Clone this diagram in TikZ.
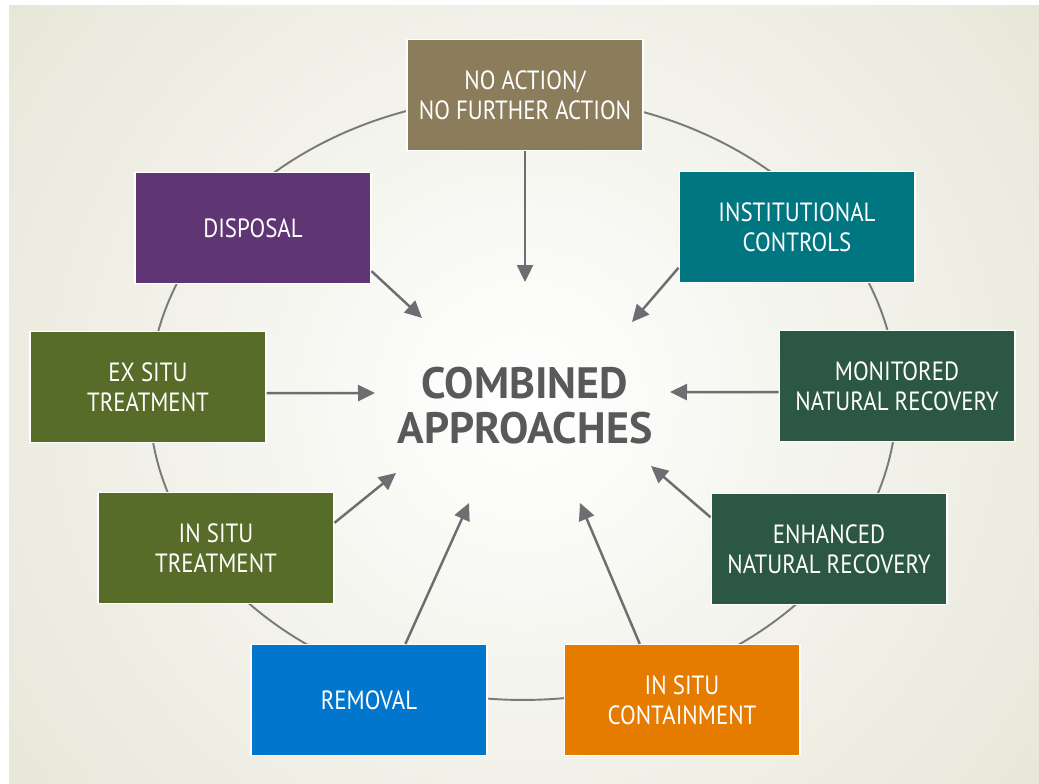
\documentclass[tikz,border=0pt]{standalone}
\usepackage{fontspec}
\setmainfont{PT Sans}
\newfontfamily\boxfont[FakeStretch=0.87]{PT Sans}
\usetikzlibrary{arrows.meta}

\definecolor{bgbeige}{HTML}{E5E5D6}
\definecolor{ringgray}{HTML}{7A7A7A}
\definecolor{arrowgray}{HTML}{6E6E72}
\definecolor{titlegray}{HTML}{58595B}
\definecolor{noactcol}{HTML}{8B7D5C}
\definecolor{disposalcol}{HTML}{5F3573}
\definecolor{instcol}{HTML}{007680}
\definecolor{recovcol}{HTML}{2C5745}
\definecolor{treatcol}{HTML}{566C28}
\definecolor{removalcol}{HTML}{0077CC}
\definecolor{containcol}{HTML}{E57C00}

\begin{document}
\begin{tikzpicture}[x=0.02cm, y=-0.02cm,
    box/.style={draw=white, line width=0.6pt, rectangle, minimum width=4.72cm, minimum height=2.22cm, align=center, text=white, font=\boxfont\fontsize{15}{17}\selectfont},
    arrow/.style={-{Triangle[length=0.34cm, width=0.32cm]}, line width=1.4pt, draw=arrowgray, fill=arrowgray},
    ring/.style={draw=ringgray, line width=1.1pt}
]
\useasboundingbox (0,0) rectangle (1039,784);

% Background
\fill[white] (0,0) rectangle (1039,784);
\begin{scope}
\clip (9,6) rectangle (1039,784);
\fill[bgbeige] (9,6) rectangle (1039,784);
\shade[inner color=white, outer color=bgbeige] (525,400) circle [radius=14cm];
\end{scope}

% Ring behind the boxes
\draw[ring] (523,398) ellipse [x radius=7.48cm, y radius=6.04cm];

% Centre
\node[font=\bfseries\fontsize{25}{25.5}\selectfont, text=titlegray, align=center] (combined) at (525,406) {COMBINED\\APPROACHES};

% Approaches
\node[box, fill=noactcol] (noact) at (525,95) {NO ACTION/\\NO FURTHER ACTION};
\node[box, fill=instcol] (inst) at (797,227) {INSTITUTIONAL\\CONTROLS};
\node[box, fill=recovcol] (monit) at (897,386) {MONITORED\\NATURAL RECOVERY};
\node[box, fill=recovcol] (enh) at (829,549) {ENHANCED\\NATURAL RECOVERY};
\node[box, fill=containcol] (contain) at (682,700) {IN SITU\\CONTAINMENT};
\node[box, fill=removalcol] (removal) at (369,700) {REMOVAL};
\node[box, fill=treatcol] (insitu) at (216,548) {IN SITU\\TREATMENT};
\node[box, fill=treatcol] (exsitu) at (148,387) {EX SITU\\TREATMENT};
\node[box, fill=disposalcol] (disposal) at (253,228) {DISPOSAL};

% Arrow tips
\coordinate (tnoact) at (525,282);
\coordinate (tinst) at (632,322);
\coordinate (tmonit) at (670,392);
\coordinate (tenh) at (651,466);
\coordinate (tcontain) at (580,503);
\coordinate (tremoval) at (469,503);
\coordinate (tinsitu) at (396,473);
\coordinate (texsitu) at (375,393);
\coordinate (tdisposal) at (422,318);

% Arrows
\draw[arrow] (noact.south) -- (tnoact);
\draw[arrow] (inst.199) -- (tinst);
\draw[arrow] (monit.183) -- (tmonit);
\draw[arrow] (enh.165) -- (tenh);
\draw[arrow] (contain.127) -- (tcontain);
\draw[arrow] (removal.57) -- (tremoval);
\draw[arrow] (insitu.12) -- (tinsitu);
\draw[arrow] (exsitu.-3) -- (texsitu);
\draw[arrow] (disposal.-20) -- (tdisposal);

\end{tikzpicture}
\end{document}
